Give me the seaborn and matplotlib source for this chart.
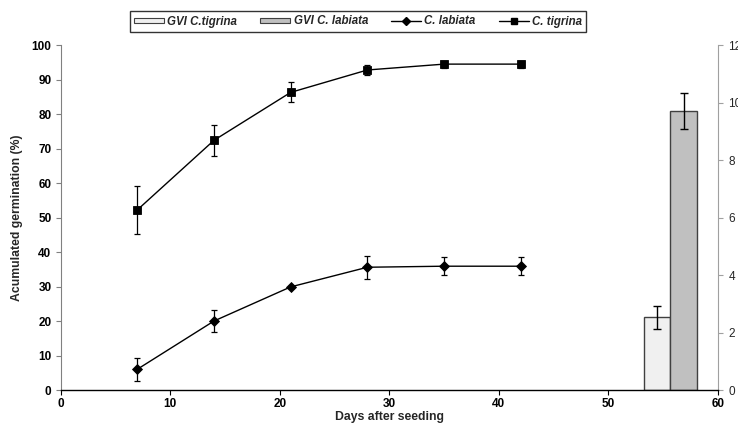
import matplotlib
matplotlib.use("Agg")
import matplotlib.pyplot as plt
import seaborn as sns
import numpy as np
import pandas as pd
from matplotlib.patches import Patch
from matplotlib.lines import Line2D

sns.set_style("white")
plt.rcParams['font.family'] = ['Liberation Sans', 'DejaVu Sans']

# Data
days = [7, 14, 21, 28, 35, 42]
tigrina = [52.2, 72.4, 86.3, 92.8, 94.5, 94.5]
tigrina_err = [7.0, 4.4, 2.9, 1.5, 1.0, 1.0]
labiata = [6.0, 20.0, 29.9, 35.6, 35.9, 35.9]
labiata_err = [3.4, 3.2, 0.4, 3.4, 2.6, 2.6]

gvi_labels = ["GVI C.tigrina", "GVI C. labiata"]
gvi_pos = [54.45, 56.85]
gvi_values = [2.53, 9.70]
gvi_err = [0.41, 0.63]
gvi_colors = ["#f0f0f0", "#c0c0c0"]

fig = plt.figure(figsize=(7.38, 4.30), dpi=100)
ax = fig.add_axes([0.082, 0.093, 0.891, 0.802])
ax2 = ax.twinx()

df = pd.DataFrame({"day": days * 2,
                   "val": tigrina + labiata,
                   "sp": ["C. tigrina"] * 6 + ["C. labiata"] * 6})

for name, vals, errs, mk, ms in [("C. labiata", labiata, labiata_err, "D", 5.5),
                                 ("C. tigrina", tigrina, tigrina_err, "s", 5.2)]:
    sub = df[df.sp == name]
    sns.lineplot(data=sub, x="day", y="val", ax=ax, color="black", lw=1.0,
                 marker=mk, markersize=ms, markeredgewidth=0.6,
                 markeredgecolor="black", legend=False)
    ax.errorbar(days, vals, yerr=errs, fmt="none", ecolor="black", elinewidth=0.9,
                capsize=2.5, capthick=0.9)

ax2.bar(gvi_pos, gvi_values, width=2.4, color=gvi_colors, edgecolor="#404040",
        linewidth=1.0, yerr=gvi_err, capsize=3,
        error_kw=dict(ecolor="black", elinewidth=1.0, capthick=1.0))

ax.set_xlim(0, 60)
ax.set_ylim(0, 100)
ax2.set_ylim(0, 12)
ax.set_xticks(range(0, 61, 10))
ax.set_yticks(range(0, 101, 10))
ax2.set_yticks(range(0, 13, 2))

for lab in ax.get_xticklabels() + ax.get_yticklabels():
    lab.set_fontweight("bold")
ax.tick_params(axis="both", labelsize=8.5, length=3.5, width=0.8, direction="out",
               colors="black")
ax.tick_params(axis="x", bottom=True, pad=2)
ax.tick_params(axis="y", left=True, color="#808080", pad=3)
ax2.tick_params(axis="y", right=True, labelsize=8.5, length=3.5, width=0.8,
                color="#a0a0a0", pad=4)

ax.set_xlabel("Days after seeding", fontsize=8.8, fontweight="bold", labelpad=1)
ax.set_ylabel("Acumulated germination (%)", fontsize=8.8, fontweight="bold", labelpad=6)

for a in (ax, ax2):
    a.spines["top"].set_visible(False)
    a.spines["bottom"].set_color("black")
    a.spines["left"].set_color("#808080")
    a.spines["right"].set_color("#a0a0a0")
    a.spines["bottom"].set_linewidth(1.0)
ax2.spines["left"].set_visible(False)
ax2.spines["bottom"].set_visible(False)
ax.spines["right"].set_visible(False)
ax.set_zorder(ax2.get_zorder() + 1)
ax.patch.set_visible(False)

handles = [Patch(facecolor=gvi_colors[0], edgecolor="#404040", lw=0.8),
           Patch(facecolor=gvi_colors[1], edgecolor="#404040", lw=0.8),
           Line2D([], [], color="black", lw=1, marker="D", markersize=4),
           Line2D([], [], color="black", lw=1, marker="s", markersize=4.5)]
leg = fig.legend(handles, gvi_labels + ["C. labiata", "C. tigrina"], loc="center",
                 bbox_to_anchor=(0.485, 0.950), ncol=4, frameon=True, fancybox=False,
                 edgecolor="black", handlelength=2.6, handleheight=0.35,
                 columnspacing=2.0, handletextpad=0.3, borderpad=0.35,
                 prop=dict(size=8.3, weight="bold", style="italic"))
leg.get_frame().set_linewidth(1.0)

fig.savefig("out.png", dpi=100)
